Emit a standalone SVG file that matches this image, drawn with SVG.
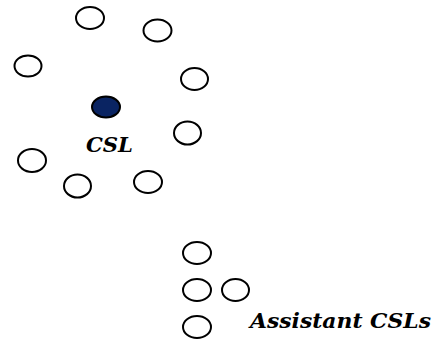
<svg xmlns="http://www.w3.org/2000/svg" width="433" height="339" viewBox="0 0 433 339">
<style>
.n{fill:#fff;stroke:#000;stroke-width:2}
.c{fill:#0a2462;stroke:#000;stroke-width:2}
.t{font-family:"DejaVu Serif","Liberation Serif",serif;font-weight:bold;font-style:italic;font-size:21px;fill:#000}
</style>
<rect width="433" height="339" fill="#fff"/>
<g id="connectors"></g>
<g id="n1"><ellipse class="n" cx="90" cy="18" rx="14" ry="11"/></g>
<g id="n2"><ellipse class="n" cx="157.5" cy="30.5" rx="14" ry="11"/></g>
<g id="n3"><ellipse class="n" cx="28" cy="66" rx="13.5" ry="10.5"/></g>
<g id="n4"><ellipse class="n" cx="194.5" cy="79" rx="13.5" ry="11"/></g>
<g id="csl"><ellipse class="c" cx="106" cy="107" rx="14" ry="10.5"/><text class="t" x="86" y="152" textLength="47" lengthAdjust="spacingAndGlyphs">CSL</text></g>
<g id="n5"><ellipse class="n" cx="187.5" cy="133" rx="13.5" ry="11.5"/></g>
<g id="n6"><ellipse class="n" cx="32" cy="160.5" rx="14" ry="11.5"/></g>
<g id="n7"><ellipse class="n" cx="77.5" cy="186" rx="13.5" ry="11.5"/></g>
<g id="n8"><ellipse class="n" cx="148" cy="182" rx="14" ry="11"/></g>
<g id="a1"><ellipse class="n" cx="197" cy="253" rx="14" ry="11"/></g>
<g id="a2"><ellipse class="n" cx="197" cy="290" rx="14" ry="11"/></g>
<g id="a3"><ellipse class="n" cx="235.5" cy="290" rx="13.5" ry="11"/></g>
<g id="a4"><ellipse class="n" cx="197" cy="327" rx="14" ry="11"/></g>
<g id="label"><text class="t" x="250" y="328" textLength="181" lengthAdjust="spacingAndGlyphs">Assistant CSLs</text></g>
</svg>
